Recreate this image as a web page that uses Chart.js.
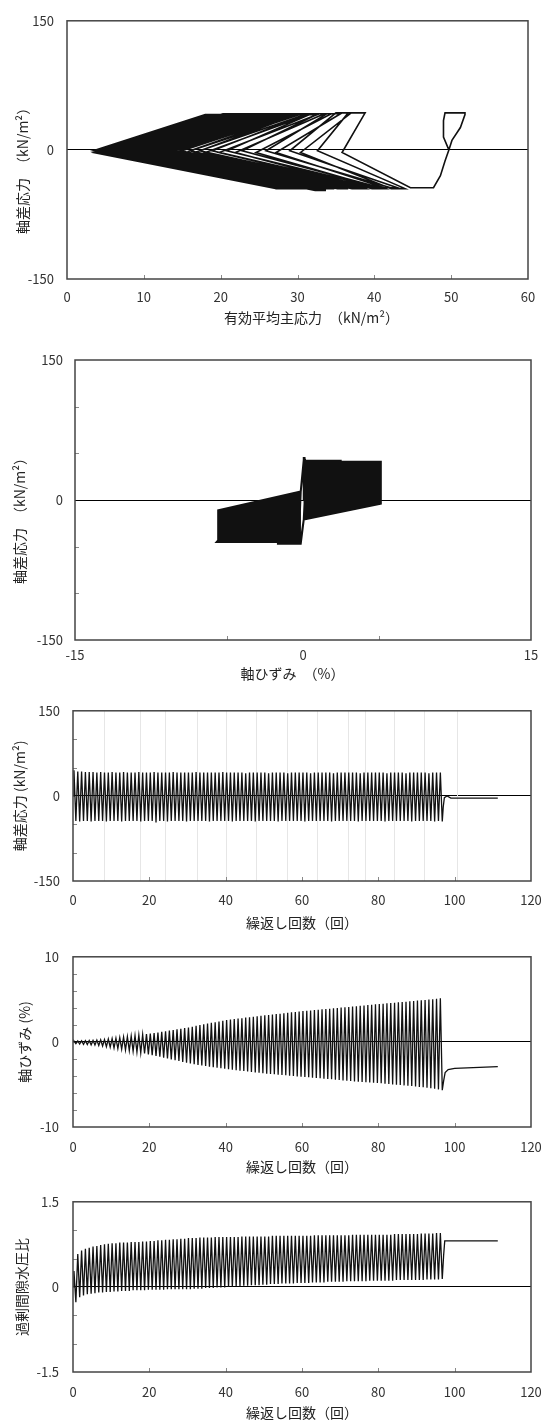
<!DOCTYPE html>
<html lang="ja">
<head>
<meta charset="utf-8">
<title>繰返し三軸試験結果</title>
<script src="https://cdn.jsdelivr.net/npm/chart.js@4.4.1/dist/chart.umd.min.js"></script>
<style>
  html, body { margin: 0; padding: 0; background: #fff; }
  body { width: 541px; height: 1428px; position: relative; overflow: hidden; }
  canvas { position: absolute; left: 0; }
</style>
</head>
<body>
<canvas id="pathChart" width="560" height="330" style="top:0px;width:560px;height:330px"></canvas>
<canvas id="loopChart" width="560" height="345" style="top:340px;width:560px;height:345px"></canvas>
<canvas id="stressChart" width="560" height="245" style="top:690px;width:560px;height:245px"></canvas>
<canvas id="strainChart" width="560" height="245" style="top:935px;width:560px;height:245px"></canvas>
<canvas id="poreChart" width="560" height="248" style="top:1180px;width:560px;height:248px"></canvas>
<script>
// per-cycle peaks (cycle 0..96)
const qMax = [
  45,43,43,42,42,42,41,42,41,41, 42,41,41,42,41,41,41,42,41,41,
  41,42,41,41,41,41,42,41,41,41, 41,41,42,41,41,41,41,41,41,42,
  41,41,41,41,41,40,41,41,41,41, 41,40,41,41,41,41,40,41,41,41,
  41,41,40,41,41,41,41,41,40,41, 41,41,41,41,41,40,41,41,41,41,
  41,41,40,41,41,41,41,40,41,41, 41,41,41,40,41,41,41
];
const qMin = [
  -44,-45,-44,-44,-45,-44,-44,-44,-45,-44, -44,-44,-45,-44,-44,-44,-44,-45,-44,-44,
  -44,-47,-44,-44,-45,-44,-44,-44,-44,-45, -44,-44,-44,-44,-44,-45,-44,-44,-44,-44,
  -44,-45,-44,-44,-44,-44,-44,-45,-44,-44, -44,-44,-44,-45,-44,-44,-44,-44,-44,-44,
  -45,-44,-44,-44,-44,-44,-44,-45,-44,-44, -44,-44,-44,-44,-45,-44,-44,-44,-44,-44,
  -44,-45,-44,-44,-44,-44,-44,-44,-45,-44, -44,-44,-44,-44,-45,-44,-45
];
const qTailX = [97.0, 97.3, 98.0, 99.0, 111.3];
const qTailY = [-20, -3, 0, -4, -4];

const epsMax = [
  0.10,0.12,0.13,0.15,0.16,0.18,0.21,0.24,0.28,0.33, 0.38,0.44,0.50,0.56,0.62,0.68,0.74,0.80,0.86,0.91,
  0.97,1.04,1.11,1.18,1.25,1.32,1.40,1.47,1.55,1.62, 1.70,1.79,1.88,1.97,2.06,2.15,2.24,2.32,2.40,2.48,
  2.56,2.62,2.68,2.74,2.79,2.85,2.90,2.96,3.01,3.07, 3.12,3.17,3.22,3.27,3.32,3.37,3.42,3.47,3.52,3.57,
  3.62,3.66,3.70,3.74,3.78,3.82,3.86,3.90,3.94,3.98, 4.03,4.07,4.11,4.15,4.19,4.24,4.28,4.32,4.37,4.41,
  4.45,4.49,4.53,4.57,4.61,4.65,4.69,4.73,4.77,4.81, 4.85,4.89,4.93,4.97,5.01,5.06,5.12
];
const epsMin = [
  -0.20,-0.25,-0.28,-0.31,-0.34,-0.37,-0.42,-0.48,-0.55,-0.62, -0.70,-0.78,-0.86,-0.94,-1.02,-1.10,-1.19,-1.28,-1.37,-1.46,
  -1.55,-1.65,-1.75,-1.85,-1.95,-2.05,-2.15,-2.25,-2.35,-2.45, -2.54,-2.62,-2.70,-2.77,-2.84,-2.91,-2.98,-3.04,-3.10,-3.16,
  -3.22,-3.28,-3.33,-3.38,-3.43,-3.48,-3.53,-3.58,-3.63,-3.68, -3.73,-3.77,-3.81,-3.85,-3.89,-3.93,-3.97,-4.01,-4.05,-4.09,
  -4.12,-4.16,-4.20,-4.24,-4.28,-4.32,-4.36,-4.40,-4.44,-4.48, -4.52,-4.56,-4.60,-4.64,-4.68,-4.71,-4.74,-4.77,-4.80,-4.83,
  -4.87,-4.91,-4.95,-4.99,-5.03,-5.07,-5.11,-5.15,-5.19,-5.24, -5.29,-5.34,-5.39,-5.44,-5.50,-5.58,-5.68
];
const epsTailX = [97.1, 97.5, 98.3, 100, 111.3];
const epsTailY = [-4.6, -3.6, -3.25, -3.1, -2.9];

const uMax = [
  0.28,0.58,0.64,0.67,0.69,0.71,0.72,0.74,0.75,0.76, 0.77,0.77,0.78,0.78,0.78,0.79,0.79,0.79,0.80,0.80,
  0.81,0.81,0.82,0.82,0.83,0.83,0.84,0.84,0.85,0.85, 0.86,0.86,0.86,0.87,0.87,0.87,0.87,0.88,0.88,0.88,
  0.88,0.88,0.88,0.88,0.89,0.89,0.89,0.89,0.89,0.89, 0.89,0.89,0.90,0.90,0.90,0.90,0.90,0.90,0.90,0.90,
  0.90,0.90,0.90,0.91,0.91,0.91,0.91,0.91,0.91,0.91, 0.91,0.91,0.91,0.92,0.92,0.92,0.92,0.92,0.92,0.92,
  0.92,0.92,0.92,0.92,0.93,0.93,0.93,0.93,0.93,0.93, 0.93,0.94,0.94,0.94,0.94,0.95,0.95
];
const uMin = [
  -0.27,-0.18,-0.15,-0.13,-0.12,-0.11,-0.10,-0.10,-0.09,-0.09, -0.08,-0.08,-0.07,-0.07,-0.07,-0.06,-0.06,-0.06,-0.06,-0.05,
  -0.05,-0.05,-0.05,-0.05,-0.04,-0.04,-0.04,-0.04,-0.04,-0.04, -0.04,-0.03,-0.03,-0.03,-0.02,-0.02,-0.02,-0.01,-0.01,-0.01,
  0.00,0.00,0.01,0.01,0.02,0.02,0.03,0.03,0.03,0.04, 0.04,0.05,0.05,0.05,0.06,0.06,0.06,0.06,0.07,0.07,
  0.07,0.07,0.08,0.08,0.08,0.08,0.09,0.09,0.09,0.09, 0.09,0.10,0.10,0.10,0.10,0.10,0.10,0.11,0.11,0.11,
  0.11,0.11,0.11,0.11,0.12,0.12,0.12,0.12,0.12,0.12, 0.12,0.12,0.13,0.13,0.13,0.13,0.14
];
const uTailX = [97.1, 97.4, 111.3];
const uTailY = [0.55, 0.81, 0.81];

// stress path: first loop, then p' at the vertices of cycles 1..96
const p0Loop = [49.7, 49.0, 49.0, 49.2, 51.8, 51.8, 51.2, 50.1, 49.7, 49.2, 48.6, 47.7, 44.7];
const q0Loop = [0, 15, 34, 43, 43, 41, 26, 11, 0, -13, -30, -44, -44];
const pLoad = [
  35.8,30.4,27.2,24.6,21.9,19.8,18.0,16.6,15.4,14.3, 13.4,12.6,11.9,11.3,10.7,10.2,9.7,9.3,8.9,8.5,
  8.2,7.9,7.6,7.3,7.1,6.9,6.7,6.5,6.3,6.1, 6.0,5.9,5.7,5.6,5.5,5.4,5.3,5.2,5.1,5.0,
  4.9,4.9,4.8,4.7,4.7,4.6,4.6,4.5,4.5,4.4, 4.4,4.4,4.3,4.3,4.3,4.2,4.2,4.2,4.1,4.1,
  4.1,4.0,4.0,4.0,4.0,3.9,3.9,3.9,3.9,3.9, 3.8,3.8,3.8,3.8,3.8,3.8,3.7,3.7,3.7,3.7,
  3.7,3.7,3.6,3.6,3.6,3.6,3.6,3.6,3.6,3.5, 3.5,3.5,3.5,3.5,3.5,3.5
];
const pTopIn = [
  38.8,37.0,35.6,34.4,33.5,32.6,31.8,31.0,30.3,29.6, 29.0,28.5,28.0,27.5,27.1,26.7,26.3,25.9,25.6,25.3,
  25.0,24.7,24.4,24.2,23.9,23.7,23.5,23.3,23.1,22.9, 22.7,22.6,22.4,22.3,22.1,22.0,21.9,21.8,21.7,21.6,
  21.5,21.4,21.3,21.2,21.1,21.0,20.9,20.9,20.8,20.7, 20.7,20.6,20.5,20.5,20.4,20.4,20.3,20.3,20.2,20.2,
  20.1,20.1,20.0,20.0,20.0,19.9,19.9,19.9,19.8,19.8, 19.8,19.7,19.7,19.7,19.6,19.6,19.6,19.6,19.5,19.5,
  19.5,19.5,19.4,19.4,19.4,19.4,19.3,19.3,19.3,19.3, 19.3,19.2,19.2,19.2,19.2,19.2
];
const pTopOut = [
  36.6,35.0,33.8,32.7,31.8,31.0,30.2,29.5,28.8,28.2, 27.6,27.1,26.6,26.1,25.7,25.3,24.9,24.5,24.2,23.9,
  23.6,23.3,23.0,22.8,22.5,22.3,22.1,21.9,21.7,21.5, 21.3,21.2,21.0,20.9,20.7,20.6,20.5,20.4,20.3,20.2,
  20.1,20.0,19.9,19.8,19.7,19.6,19.5,19.5,19.4,19.3, 19.3,19.2,19.1,19.1,19.0,19.0,18.9,18.9,18.8,18.8,
  18.7,18.7,18.7,18.6,18.6,18.6,18.5,18.5,18.5,18.5, 18.4,18.4,18.4,18.4,18.4,18.3,18.3,18.3,18.3,18.3,
  18.3,18.2,18.2,18.2,18.2,18.2,18.2,18.1,18.1,18.1, 18.1,18.1,18.1,18.0,18.0,18.0
];
const pUnload = [
  32.6,29.0,25.9,22.8,20.8,18.9,17.3,16.0,14.8,13.8, 13.0,12.2,11.6,11.0,10.4,9.9,9.5,9.1,8.7,8.3,
  8.0,7.7,7.4,7.2,7.0,6.8,6.6,6.4,6.2,6.0, 5.9,5.8,5.6,5.5,5.4,5.3,5.2,5.1,5.0,4.9,
  4.9,4.8,4.7,4.7,4.6,4.6,4.5,4.5,4.4,4.4, 4.4,4.3,4.3,4.3,4.2,4.2,4.2,4.1,4.1,4.1,
  4.0,4.0,4.0,4.0,3.9,3.9,3.9,3.9,3.9,3.8, 3.8,3.8,3.8,3.8,3.8,3.7,3.7,3.7,3.7,3.7,
  3.7,3.6,3.6,3.6,3.6,3.6,3.6,3.6,3.5,3.5, 3.5,3.5,3.5,3.5,3.5,3.4
];
const pBotIn = [
  44.0,43.0,42.1,41.3,40.5,39.8,39.2,38.6,38.0,37.5, 37.0,36.6,36.2,35.8,35.4,35.1,34.8,34.5,34.2,33.9,
  33.7,33.4,33.2,33.0,32.8,32.6,32.4,32.2,32.1,31.9, 31.8,31.6,31.5,31.4,31.3,31.2,31.1,31.0,30.9,30.8,
  30.7,30.6,30.5,30.5,30.4,30.3,30.3,30.2,30.1,30.1, 30.0,30.0,29.9,29.9,29.8,29.8,29.7,29.7,29.6,29.6,
  29.6,29.5,29.5,29.5,29.4,29.4,29.4,29.3,29.3,29.3, 29.3,29.2,29.2,29.2,29.2,29.1,29.1,29.1,29.1,29.0,
  29.0,29.0,29.0,29.0,28.9,28.9,28.9,28.9,28.9,28.8, 28.8,28.8,28.8,28.8,28.7,28.7
];
const pBotOut = [
  42.2,41.3,40.5,39.7,39.0,38.3,37.7,37.1,36.6,36.1, 35.6,35.2,34.8,34.4,34.0,33.7,33.4,33.1,32.8,32.5,
  32.3,32.0,31.8,31.6,31.4,31.2,31.0,30.8,30.6,30.4, 30.3,30.1,30.0,29.9,29.8,29.7,29.6,29.5,29.4,29.3,
  29.2,29.1,29.0,29.0,28.9,28.8,28.8,28.7,28.6,28.6, 28.5,28.5,28.4,28.4,28.3,28.3,28.2,28.2,28.1,28.1,
  28.1,28.0,28.0,28.0,27.9,27.9,27.9,27.8,27.8,27.8, 27.8,27.7,27.7,27.7,27.7,27.6,27.6,27.6,27.6,27.5,
  27.5,27.5,27.5,27.5,27.4,27.4,27.4,27.4,27.4,27.3, 27.3,27.3,27.3,27.3,27.2,27.2
];
const qVertex = [-3, -1];          // q at the loading / unloading turning points
const pathTailP = [14, 9.5];
const pathTailQ = [-4, -4];

// stress-strain loop: q where strain reverses, strain of the stiff branch
const ssKnotQ = [-4, -21, -11, 9];
const ssKnotEps = [0.05, -0.15];
const ssTailEps = [-3.4, -2.9];
const ssTailQ = [-4, -4];

// axis ticks
const pathXTicks = [0, 10, 20, 30, 40, 50, 60];
const loopXTicks = [-15, 0, 15];
const cycleTicks = [0, 20, 40, 60, 80, 100, 120];
const stressTicks = [-150, 0, 150];
const strainTicks = [-10, 0, 10];
const poreTicks = [-1.5, 0, 1.5];
const stressGridX = [8, 17.5, 24, 32.5, 40, 48, 56, 64, 72, 76.5, 84, 92, 100.5];

Chart.defaults.font.family = '"Noto Sans CJK JP", "Noto Sans", sans-serif';
Chart.defaults.color = '#333';

const framePlugin = {
    id: 'frame',
    beforeDatasetsDraw(chart, args, opts) {
        const { ctx, chartArea: a, scales: { x } } = chart;
        ctx.save();
        ctx.strokeStyle = '#e6e6e6';
        ctx.lineWidth = 1;
        (opts.faintX || []).forEach(v => {
            const px = Math.round(x.getPixelForValue(v)) + 0.5;
            ctx.beginPath();
            ctx.moveTo(px, a.top);
            ctx.lineTo(px, a.bottom);
            ctx.stroke();
        });
        ctx.restore();
    },
    afterDatasetsDraw(chart, args, opts) {
        const { ctx, chartArea: a, scales: { x, y } } = chart;
        ctx.save();
        ctx.strokeStyle = '#888';
        ctx.lineWidth = 1;
        (opts.minorX || []).forEach(v => {
            const px = Math.round(x.getPixelForValue(v)) + 0.5;
            ctx.beginPath();
            ctx.moveTo(px, a.bottom);
            ctx.lineTo(px, a.bottom - 4);
            ctx.stroke();
        });
        (opts.minorY || []).forEach(v => {
            const py = Math.round(y.getPixelForValue(v)) + 0.5;
            ctx.beginPath();
            ctx.moveTo(a.left, py);
            ctx.lineTo(a.left + 4, py);
            ctx.stroke();
        });
        ctx.strokeStyle = '#444';
        ctx.lineWidth = 1.5;
        ctx.strokeRect(a.left, a.top, a.right - a.left, a.bottom - a.top);
        ctx.restore();
    }
};

function axisOptions(c) {
    return {
        responsive: false,
        animation: false,
        devicePixelRatio: 1,
        events: [],
        layout: { padding: c.padding },
        plugins: {
            legend: { display: false },
            tooltip: { enabled: false },
            frame: { minorX: c.minorX, minorY: c.minorY, faintX: c.faintX }
        },
        scales: {
            x: {
                type: 'linear', min: c.xMin, max: c.xMax,
                afterBuildTicks: s => { s.ticks = c.xTicks.map(v => ({ value: v })); },
                afterFit: s => { s.height = c.xHeight; },
                grid: { display: false, drawTicks: false, tickLength: 0 },
                border: { display: false },
                ticks: { padding: c.xTickPad, font: { size: 13 }, color: '#333', maxRotation: 0, autoSkip: false },
                title: { display: true, text: c.xTitle, font: { size: 14 }, color: '#222', padding: { top: 0, bottom: c.xTitlePad } }
            },
            y: {
                type: 'linear', min: c.yMin, max: c.yMax,
                afterBuildTicks: s => { s.ticks = c.yTicks.map(v => ({ value: v })); },
                afterFit: s => { s.width = c.yWidth; },
                grid: {
                    drawTicks: false, tickLength: 0, lineWidth: 1,
                    color: ctx => (ctx.tick && ctx.tick.value === 0) ? '#000' : 'rgba(0,0,0,0)'
                },
                border: { display: false },
                ticks: { padding: c.yTickPad, font: { size: 13 }, color: '#333', autoSkip: false },
                title: { display: true, text: c.yTitle, font: { size: 14 }, color: '#222', padding: { top: c.yTitlePad, bottom: 0 } }
            }
        }
    };
}

function lineSet(points, width) {
    return {
        data: points, showLine: true, pointRadius: 0,
        borderColor: '#111', borderWidth: width, tension: 0, fill: false
    };
}

function cyclePoints(maxArr, minArr, tailX, tailY) {
    const pts = [{ x: 0, y: 0 }];
    maxArr.forEach((v, k) => {
        pts.push({ x: k + 0.25, y: v });
        pts.push({ x: k + 0.75, y: minArr[k] });
    });
    tailX.forEach((x, i) => pts.push({ x: x, y: tailY[i] }));
    return pts;
}

function pathPoints() {
    const pts = p0Loop.map((p, i) => ({ x: p, y: q0Loop[i] }));
    pLoad.forEach((p, i) => {
        const k = i + 1;
        pts.push({ x: p, y: qVertex[0] });
        pts.push({ x: pTopIn[i], y: qMax[k] });
        pts.push({ x: pTopOut[i], y: qMax[k] });
        pts.push({ x: pUnload[i], y: qVertex[1] });
        pts.push({ x: pBotIn[i], y: qMin[k] });
        pts.push({ x: pBotOut[i], y: qMin[k] });
    });
    pathTailP.forEach((p, i) => pts.push({ x: p, y: pathTailQ[i] }));
    return pts;
}

function loopPoints() {
    const pts = [{ x: 0, y: 0 }];
    const last = qMax.length - 1;
    qMax.forEach((qc, k) => {
        pts.push({ x: ssKnotEps[0], y: qc });
        pts.push({ x: epsMax[k], y: qc });
        pts.push({ x: epsMax[k], y: ssKnotQ[0] });
        pts.push({ x: ssKnotEps[0], y: ssKnotQ[1] });
        pts.push({ x: ssKnotEps[1], y: qMin[k] });
        pts.push({ x: epsMin[k], y: qMin[k] });
        if (k < last) {
            pts.push({ x: epsMin[k], y: ssKnotQ[2] });
            pts.push({ x: ssKnotEps[1], y: ssKnotQ[3] });
        }
    });
    ssTailEps.forEach((e, i) => pts.push({ x: e, y: ssTailQ[i] }));
    return pts;
}

function renderPathChart() {
    const ctx = document.getElementById('pathChart');
    new Chart(ctx, {
        type: 'scatter',
        data: { datasets: [lineSet(pathPoints(), 1.6)] },
        options: axisOptions({
            padding: { left: 4, right: 32, top: 14, bottom: 0 },
            yWidth: 63, xHeight: 51, xTickPad: 10, yTickPad: 13, xTitlePad: 4, yTitlePad: 10,
            xMin: 0, xMax: 60, xTicks: pathXTicks, yMin: -150, yMax: 150, yTicks: stressTicks,
            xTitle: '　　有効平均主応力　（kN/m²）', yTitle: '軸差応力　（kN/m²）　　　',
            minorX: [10, 20, 30, 40, 50], minorY: []
        }),
        plugins: [framePlugin]
    });
}

function renderLoopChart() {
    const ctx = document.getElementById('loopChart');
    new Chart(ctx, {
        type: 'scatter',
        data: { datasets: [lineSet(loopPoints(), 2)] },
        options: axisOptions({
            padding: { left: 4, right: 29, top: 20, bottom: 0 },
            yWidth: 71, xHeight: 45, xTickPad: 7, yTickPad: 12, xTitlePad: 3, yTitlePad: 7,
            xMin: -15, xMax: 15, xTicks: loopXTicks, yMin: -150, yMax: 150, yTicks: stressTicks,
            xTitle: '軸ひずみ　（%）　　', yTitle: '軸差応力　（kN/m²）　　　',
            minorX: [-5, 5], minorY: [-100, -50, 50, 100]
        }),
        plugins: [framePlugin]
    });
}

function renderStressChart() {
    const ctx = document.getElementById('stressChart');
    new Chart(ctx, {
        type: 'scatter',
        data: { datasets: [lineSet(cyclePoints(qMax, qMin, qTailX, qTailY), 1.3)] },
        options: axisOptions({
            padding: { left: 4, right: 29, top: 17, bottom: 0 },
            yWidth: 69, xHeight: 54, xTickPad: 11, yTickPad: 13, xTitlePad: 4, yTitlePad: 7,
            xMin: 0, xMax: 120, xTicks: cycleTicks, yMin: -150, yMax: 150, yTicks: stressTicks,
            xTitle: '繰返し回数（回）', yTitle: '軸差応力 (kN/m²)',
            minorX: [20, 40, 60, 80, 100], minorY: [-100, -50, 50, 100], faintX: stressGridX
        }),
        plugins: [framePlugin]
    });
}

function renderStrainChart() {
    const ctx = document.getElementById('strainChart');
    new Chart(ctx, {
        type: 'scatter',
        data: { datasets: [lineSet(cyclePoints(epsMax, epsMin, epsTailX, epsTailY), 1.3)] },
        options: axisOptions({
            padding: { left: 4, right: 29, top: 17, bottom: 0 },
            yWidth: 69, xHeight: 53, xTickPad: 12, yTickPad: 14, xTitlePad: 5, yTitlePad: 12,
            xMin: 0, xMax: 120, xTicks: cycleTicks, yMin: -10, yMax: 10, yTicks: strainTicks,
            xTitle: '繰返し回数（回）', yTitle: '軸ひずみ (%)',
            minorX: [20, 40, 60, 80, 100], minorY: [-8, -6, -4, -2, 2, 4, 6, 8]
        }),
        plugins: [framePlugin]
    });
}

function renderPoreChart() {
    const ctx = document.getElementById('poreChart');
    new Chart(ctx, {
        type: 'scatter',
        data: { datasets: [lineSet(cyclePoints(uMax, uMin, uTailX, uTailY), 1.3)] },
        options: axisOptions({
            padding: { left: 4, right: 29, top: 17, bottom: 0 },
            yWidth: 69, xHeight: 56, xTickPad: 12, yTickPad: 14, xTitlePad: 7, yTitlePad: 9,
            xMin: 0, xMax: 120, xTicks: cycleTicks, yMin: -1.5, yMax: 1.5, yTicks: poreTicks,
            xTitle: '繰返し回数（回）', yTitle: '過剰間隙水圧比',
            minorX: [20, 40, 60, 80, 100], minorY: [-1, -0.5, 0.5, 1]
        }),
        plugins: [framePlugin]
    });
}

renderPathChart();
renderLoopChart();
renderStressChart();
renderStrainChart();
renderPoreChart();
</script>
</body>
</html>
